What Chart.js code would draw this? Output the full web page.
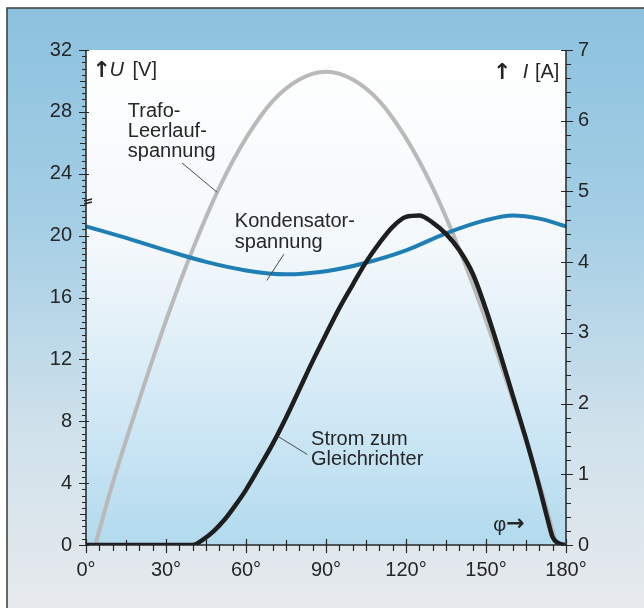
<!DOCTYPE html>
<html>
<head>
<meta charset="utf-8">
<script src="https://cdn.jsdelivr.net/npm/chart.js@4.4.1/dist/chart.umd.min.js"></script>
<style>
  body { margin: 0; background: #fff; }
  #wrap { width: 644px; height: 608px; }
</style>
</head>
<body>
<div id="wrap"><canvas id="diagramm" width="644" height="608"></canvas></div>
<script>
// Phasenwinkel in Grad und Werte

// Trafo-Leerlaufspannung U [V]
const phiTrafo = [3.5, 10, 20, 30, 40, 50, 60, 70, 80, 90, 100, 110, 120, 130, 140, 150, 160, 170, 176.5];
const uTrafo   = [0, 4.0, 9.4, 14.5, 19.1, 23.1, 26.3, 28.7, 30.1, 30.6, 30.1, 28.7, 26.3, 23.1, 19.1, 14.5, 9.4, 4.0, 0];

// Kondensatorspannung U [V]
const phiKond = [0, 15, 30, 45, 60, 75, 90, 105, 120, 135, 150, 160, 170, 180];
const uKond   = [20.6, 19.85, 19.05, 18.3, 17.75, 17.5, 17.7, 18.25, 19.05, 20.15, 21.0, 21.3, 21.1, 20.6];

// Strom zum Gleichrichter I [A]
const phiStrom = [0, 40, 44, 48, 52, 56, 60, 65, 70, 75, 80, 85, 90, 95, 100, 105, 110, 115, 120, 125, 130, 135, 140, 145, 150, 155, 160, 165, 170, 173, 175, 177, 179.5];
const iStrom   = [0, 0, 0.08, 0.2, 0.36, 0.56, 0.78, 1.1, 1.43, 1.8, 2.2, 2.6, 2.98, 3.35, 3.68, 4.0, 4.27, 4.5, 4.64, 4.66, 4.56, 4.4, 4.17, 3.84, 3.33, 2.74, 2.12, 1.5, 0.82, 0.38, 0.11, 0.03, 0];

const xTicks = [0, 30, 60, 90, 120, 150, 180];
const uTicks = [0, 4, 8, 12, 16, 20, 24, 28, 32];
const iTicks = [0, 1, 2, 3, 4, 5, 6, 7];

const FONT = "'Liberation Sans', Arial, Helvetica, sans-serif";
const ARROW = "bold 22px 'DejaVu Sans', sans-serif";
const INK = '#262626';

function punkte(xs, ys) {
    return xs.map((x, i) => ({ x: x, y: ys[i] }));
}

// Hintergrund: Rahmen blau -> grau, Diagrammfläche weiss -> hellblau
const hintergrund = {
    id: 'hintergrund',
    beforeDraw(chart) {
        const ctx = chart.ctx;
        const a = chart.chartArea;
        ctx.save();
        ctx.fillStyle = '#ffffff';
        ctx.fillRect(0, 0, chart.width, chart.height);
        let g = ctx.createLinearGradient(0, 8, 0, chart.height);
        g.addColorStop(0, '#8cc2df');
        g.addColorStop(0.35, '#a4cee5');
        g.addColorStop(0.7, '#cfe1eb');
        g.addColorStop(1, '#e7eaed');
        ctx.fillStyle = g;
        ctx.fillRect(7, 8, chart.width - 7, chart.height - 8);
        ctx.strokeStyle = '#3a3a3a';
        ctx.lineWidth = 1.5;
        ctx.beginPath();
        ctx.moveTo(7, chart.height);
        ctx.lineTo(7, 8);
        ctx.lineTo(chart.width, 8);
        ctx.stroke();

        g = ctx.createLinearGradient(0, a.top, 0, a.bottom);
        g.addColorStop(0, '#ffffff');
        g.addColorStop(0.4, '#f3f8fb');
        g.addColorStop(0.7, '#d4eaf6');
        g.addColorStop(1, '#b2daee');
        ctx.fillStyle = g;
        ctx.fillRect(a.left, a.top, a.right - a.left, a.bottom - a.top);
        ctx.restore();
    }
};

// Achsenlinien, Teilstriche, Beschriftungen im Diagramm
const achsen = {
    id: 'achsen',
    afterDatasetsDraw(chart) {
        const ctx = chart.ctx;
        const a = chart.chartArea;
        const sx = chart.scales.x, su = chart.scales.y, si = chart.scales.yI;
        ctx.save();
        ctx.strokeStyle = INK;
        ctx.lineWidth = 1.5;
        ctx.beginPath();
        ctx.moveTo(a.left, a.top); ctx.lineTo(a.left, a.bottom);
        ctx.moveTo(a.right, a.top); ctx.lineTo(a.right, a.bottom);
        ctx.moveTo(a.left, a.bottom); ctx.lineTo(a.right, a.bottom);
        ctx.stroke();

        ctx.lineWidth = 1.2;
        ctx.beginPath();
        // U-Achse: alle 0,4 V
        for (let k = 0; k <= 80; k++) {
            const y = Math.round(su.getPixelForValue(k * 0.4)) + 0.5;
            if (k % 10 === 0) { ctx.moveTo(a.left - 7, y); ctx.lineTo(a.left + 3, y); }
            else if (k % 5 === 0) { ctx.moveTo(a.left - 6, y); ctx.lineTo(a.left, y); }
            else { ctx.moveTo(a.left - 4, y); ctx.lineTo(a.left, y); }
        }
        // I-Achse: alle 0,2 A
        for (let k = 0; k <= 35; k++) {
            const y = Math.round(si.getPixelForValue(k * 0.2)) + 0.5;
            if (k % 5 === 0) { ctx.moveTo(a.right - 5, y); ctx.lineTo(a.right + 7, y); }
            else { ctx.moveTo(a.right, y); ctx.lineTo(a.right + 5, y); }
        }
        // phi-Achse: alle 5°
        for (let k = 0; k <= 36; k++) {
            const x = Math.round(sx.getPixelForValue(k * 5)) + 0.5;
            if (k % 6 === 0) { ctx.moveTo(x, a.bottom - 6); ctx.lineTo(x, a.bottom + 8); }
            else if (k % 3 === 0) { ctx.moveTo(x, a.bottom - 5); ctx.lineTo(x, a.bottom + 6); }
            else { ctx.moveTo(x, a.bottom); ctx.lineTo(x, a.bottom + 6); }
        }
        ctx.stroke();

        // Unterbrechung der U-Achse
        const yb = su.getPixelForValue(22.3);
        ctx.lineWidth = 1.6;
        ctx.beginPath();
        ctx.moveTo(a.left - 2, yb + 1); ctx.lineTo(a.left + 6, yb - 1);
        ctx.moveTo(a.left - 2, yb + 4); ctx.lineTo(a.left + 6, yb + 2);
        ctx.stroke();

        // Hinweislinien
        const P = (phi, u) => [sx.getPixelForValue(phi), su.getPixelForValue(u)];
        const linie = (p, q) => { ctx.moveTo(p[0], p[1]); ctx.lineTo(q[0], q[1]); };
        ctx.strokeStyle = '#4a4a4a';
        ctx.lineWidth = 1;
        ctx.beginPath();
        linie(P(36, 24.7), P(49.2, 22.8));
        linie(P(74.2, 18.8), P(67.8, 17.1));
        linie(P(83, 5.85), P(72.2, 7.0));
        ctx.stroke();

        // Texte
        ctx.fillStyle = INK;
        ctx.textBaseline = 'alphabetic';
        ctx.textAlign = 'left';
        const text = (s, phi, u, font) => {
            ctx.font = font || ('20px ' + FONT);
            const p = P(phi, u);
            ctx.fillText(s, p[0], p[1]);
        };
        text('Trafo-', 15.7, 27.7);
        text('Leerlauf-', 15.7, 26.4);
        text('spannung', 15.7, 25.1);
        text('Kondensator-', 55.8, 20.55);
        text('spannung', 55.8, 19.2);
        text('Strom zum', 84.4, 6.45);
        text('Gleichrichter', 84.4, 5.15);

        // Achsentitel
        let p = P(3.2, 30.35);
        ctx.font = ARROW;
        ctx.fillText('\u2191', p[0] - 2, p[1] + 1);
        ctx.font = 'italic 20px ' + FONT;
        ctx.fillText('U', p[0] + 15, p[1]);
        ctx.font = '20px ' + FONT;
        ctx.fillText('[V]', p[0] + 38, p[1]);

        p = P(177.5, 30.2);
        ctx.textAlign = 'right';
        ctx.fillText('[A]', p[0], p[1]);
        ctx.font = 'italic 20px ' + FONT;
        ctx.fillText('I', p[0] - 31, p[1]);
        ctx.font = ARROW;
        ctx.fillText('\u2191', p[0] - 48, p[1] + 1);

        p = P(152.7, 0.9);
        ctx.textAlign = 'left';
        ctx.font = '20px ' + FONT;
        ctx.fillText('\u03c6', p[0], p[1]);
        ctx.font = ARROW;
        ctx.fillText('\u2192', p[0] + 13, p[1] - 1);
        ctx.restore();
    }
};

const graphTarget = document.getElementById('diagramm');

let chart = new Chart(graphTarget, {
    type: 'scatter',
    data: {
        datasets: [
            {
                label: 'Strom zum Gleichrichter',
                data: punkte(phiStrom, iStrom),
                yAxisID: 'yI',
                borderColor: '#1e1e1e',
                borderWidth: 4.5,
                order: 1
            },
            {
                label: 'Kondensatorspannung',
                data: punkte(phiKond, uKond),
                yAxisID: 'y',
                borderColor: '#1f7fb5',
                borderWidth: 4,
                order: 2
            },
            {
                label: 'Trafo-Leerlaufspannung',
                data: punkte(phiTrafo, uTrafo),
                yAxisID: 'y',
                borderColor: '#b9b9b9',
                borderWidth: 4,
                order: 3
            }
        ]
    },
    options: {
        responsive: false,
        animation: false,
        devicePixelRatio: 1,
        events: [],
        layout: { padding: { top: 50, left: 0, right: 0, bottom: 0 } },
        elements: {
            point: { radius: 0 },
            line: { cubicInterpolationMode: 'monotone', capStyle: 'round', joinStyle: 'round' }
        },
        datasets: { scatter: { showLine: true } },
        plugins: {
            legend: { display: false },
            tooltip: { enabled: false }
        },
        scales: {
            x: {
                type: 'linear',
                min: 0,
                max: 180,
                grid: { display: false, drawTicks: false },
                border: { display: false },
                afterBuildTicks: (s) => { s.ticks = xTicks.map(v => ({ value: v })); },
                afterFit: (s) => { s.height = 63; },
                ticks: {
                    padding: 13,
                    color: INK,
                    maxRotation: 0,
                    font: { family: FONT, size: 20 },
                    callback: (v) => v + '°'
                }
            },
            y: {
                position: 'left',
                min: 0,
                max: 32,
                grid: { display: false, drawTicks: false },
                border: { display: false },
                afterBuildTicks: (s) => { s.ticks = uTicks.map(v => ({ value: v })); },
                afterFit: (s) => { s.width = 86; },
                ticks: { padding: 14, color: INK, font: { family: FONT, size: 20 } }
            },
            yI: {
                position: 'right',
                min: 0,
                max: 7,
                grid: { display: false, drawTicks: false },
                border: { display: false },
                afterBuildTicks: (s) => { s.ticks = iTicks.map(v => ({ value: v })); },
                afterFit: (s) => { s.width = 78; },
                ticks: { padding: 12, color: INK, font: { family: FONT, size: 20 } }
            }
        }
    },
    plugins: [hintergrund, achsen]
});
</script>
</body>
</html>
